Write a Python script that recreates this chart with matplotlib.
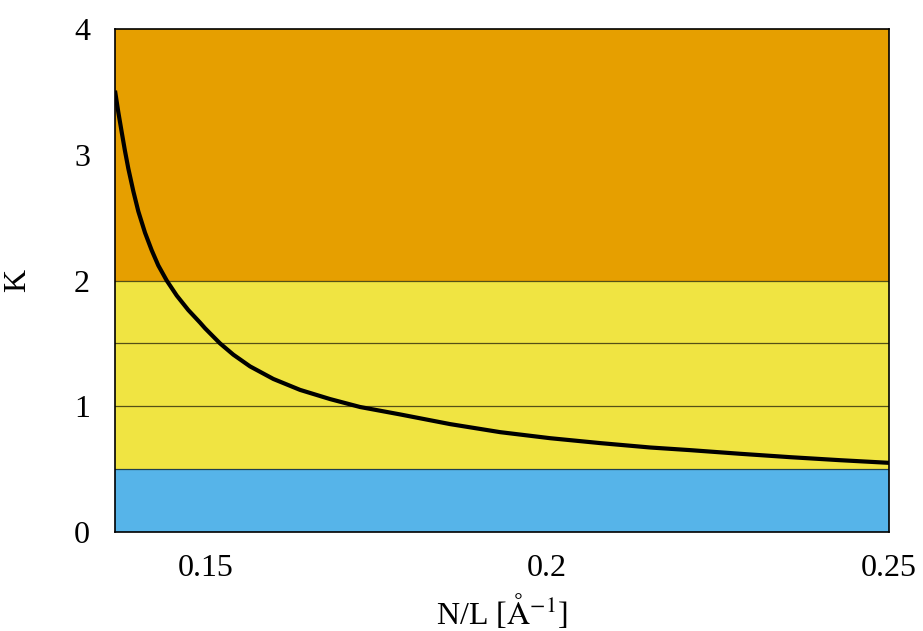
import numpy as np
import matplotlib as mpl
mpl.use('Agg')
import matplotlib.pyplot as plt

# Curve K(N/L)
density = [0.13680, 0.13728, 0.13778, 0.13826, 0.13875, 0.13948, 0.14021,
           0.14119, 0.14217, 0.14313, 0.14436, 0.14583, 0.14752, 0.14924,
           0.14997, 0.15216, 0.15411, 0.15655, 0.15996, 0.16387, 0.16826,
           0.17264, 0.17850, 0.18581, 0.19313, 0.20044, 0.20776, 0.21507,
           0.22093, 0.22824, 0.23556, 0.24287, 0.25000]
luttinger_k = [3.51, 3.34, 3.18, 3.03, 2.89, 2.71, 2.55,
               2.38, 2.24, 2.12, 2.00, 1.88, 1.765, 1.665,
               1.62, 1.50, 1.41, 1.317, 1.217, 1.13, 1.057,
               0.994, 0.935, 0.858, 0.794, 0.746, 0.707, 0.672,
               0.651, 0.622, 0.595, 0.571, 0.550]

# Shaded bands (lower, upper, colour)
band_edges = [0.0, 0.5, 2.0, 4.0]
band_colors = ['#56B4E9', '#F0E442', '#E69F00']
guide_levels = [0.5, 1.0, 1.5, 2.0]

xticks = [0.15, 0.2, 0.25]
xtick_labels = ['0.15', '0.2', '0.25']
yticks = [0, 1, 2, 3, 4]

plt.rcParams['font.family'] = ['Liberation Serif', 'DejaVu Serif']
plt.rcParams['mathtext.fontset'] = 'stix'

fig = plt.figure(figsize=(9.23, 6.31), dpi=100)
ax = fig.add_axes([115 / 923, 99 / 631, 774 / 923, 503 / 631])

for lo, hi, c in zip(band_edges[:-1], band_edges[1:], band_colors):
    ax.axhspan(lo, hi, color=c, lw=0, zorder=0)
for lvl in guide_levels:
    ax.axhline(lvl, color='black', alpha=0.65, lw=0.9, zorder=1)

ax.plot(density, luttinger_k, color='black', lw=3, zorder=3,
        solid_capstyle='butt', solid_joinstyle='round')

ax.set_xlim(0.1368, 0.25)
ax.set_ylim(0, 4)
ax.set_xticks(xticks)
ax.set_xticklabels(xtick_labels)
ax.set_yticks(yticks)
ax.tick_params(length=0, labelsize=23)
ax.tick_params(axis='x', pad=16)
ax.tick_params(axis='y', pad=18)

for s in ax.spines.values():
    s.set_linewidth(1.2)
    s.set_zorder(4)

ax.set_xlabel(r'N/L [$\mathrm{\AA}^{-1}$]', fontsize=23)
ax.set_ylabel('K', fontsize=23, rotation=90)
ax.xaxis.set_label_coords(0.5, -0.12)
ax.yaxis.set_label_coords(-0.107, 0.5)

fig.savefig('out.png', dpi=100)
plt.close(fig)
